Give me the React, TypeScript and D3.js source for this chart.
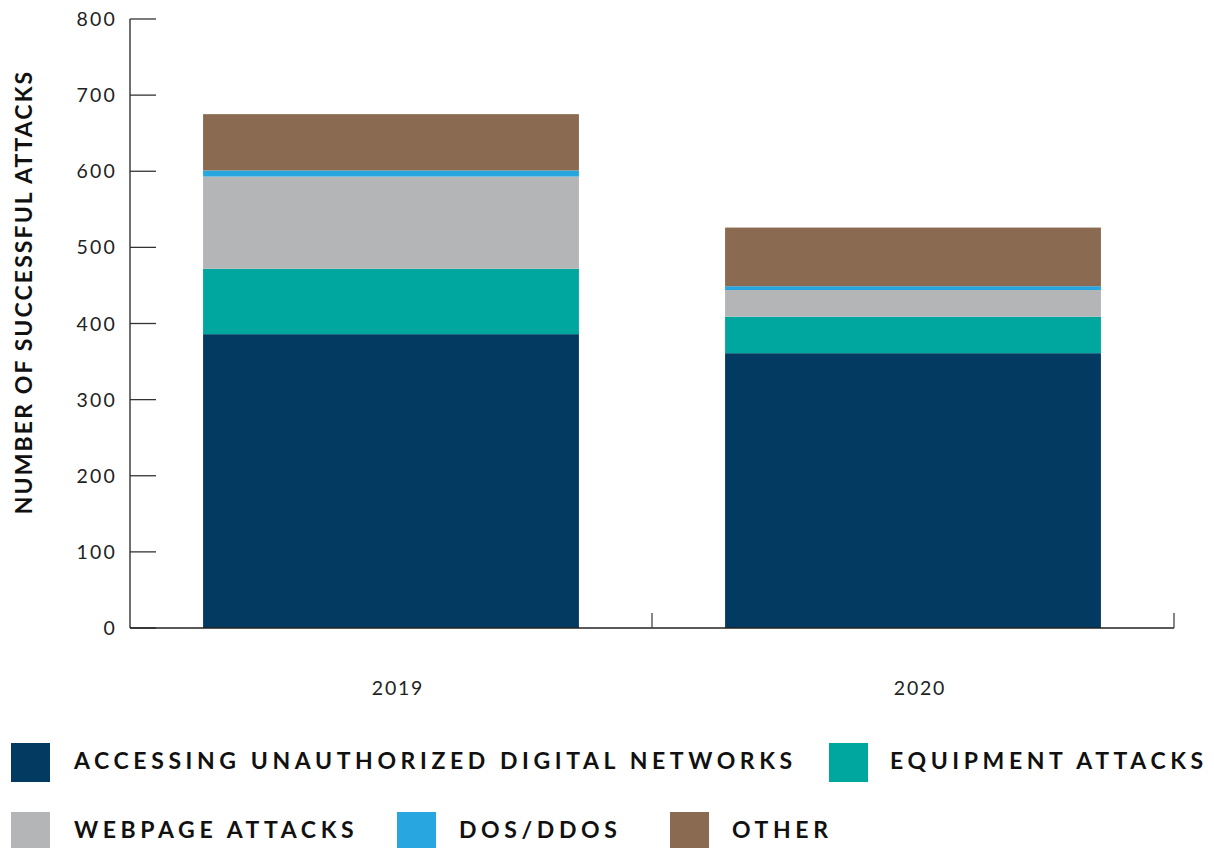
import React from "react";
import * as d3 from "d3";

const years = ["2019", "2020"];
const seriesKeys = ["unauthorized", "equipment", "webpage", "dos", "other"];
const seriesLabels = [
  "ACCESSING UNAUTHORIZED DIGITAL NETWORKS",
  "EQUIPMENT ATTACKS",
  "WEBPAGE ATTACKS",
  "DOS/DDOS",
  "OTHER",
];
const seriesColors = ["#023a62", "#00a79f", "#b4b5b7", "#27a6df", "#8a6a50"];
const unauthorized = [386, 361];
const equipment = [86, 48];
const webpage = [121, 35];
const dos = [8, 5];
const other = [74, 77];
const yTicks = [0, 100, 200, 300, 400, 500, 600, 700, 800];

const FONT = "Lato, 'Open Sans', sans-serif";

export default function App() {
  const width = 1214;
  const height = 848;
  const x0 = 130, x1 = 1174, yTop = 19, yBot = 628;

  const table = years.map((y, i) => ({
    year: y,
    unauthorized: unauthorized[i],
    equipment: equipment[i],
    webpage: webpage[i],
    dos: dos[i],
    other: other[i],
  }));
  const stacked = d3.stack<any>().keys(seriesKeys)(table);

  const x = d3.scaleBand().domain(years).range([x0, x1]).padding(0);
  const barW = x.bandwidth() * 0.72;
  const barOff = (x.bandwidth() - barW) / 2;
  const y = d3.scaleLinear().domain([0, 800]).range([yBot, yTop]);

  const legendRows = [
    [
      { i: 0, sx: 11, tx: 74 },
      { i: 1, sx: 829, tx: 890 },
    ],
    [
      { i: 2, sx: 11, tx: 74 },
      { i: 3, sx: 397, tx: 459 },
      { i: 4, sx: 670, tx: 732 },
    ],
  ];
  const rowY = [743, 812];

  return (
    <svg
      width={width}
      height={height}
      style={{ position: "absolute", left: 0, top: 0, background: "#fff" }}
    >
      {stacked.map((s, si) => (
        <g key={s.key} fill={seriesColors[si]}>
          {s.map((d: any, di: number) => (
            <rect
              key={di}
              x={(x(years[di]) as number) + barOff}
              width={barW}
              y={y(d[1])}
              height={y(d[0]) - y(d[1])}
            />
          ))}
        </g>
      ))}
      {/* y axis */}
      <line x1={x0} x2={x0} y1={yTop} y2={yBot} stroke="#222" strokeWidth={1.3} />
      {yTicks.map((t) => (
        <g key={t}>
          <line x1={x0} x2={x0 + 26} y1={y(t)} y2={y(t)} stroke="#333" strokeWidth={1.3} />
          <text
            x={x0 - 13}
            y={y(t)}
            dy="0.36em"
            textAnchor="end"
            fontFamily={FONT}
            fontSize={19.5}
            letterSpacing={2.2}
            fill="#222"
          >
            {t}
          </text>
        </g>
      ))}
      {/* x axis */}
      <line x1={x0} x2={x1} y1={yBot} y2={yBot} stroke="#222" strokeWidth={1.3} />
      {[...years.map((yr) => x(yr) as number).slice(1), x1].map((tx, i) => (
        <line key={i} x1={tx} x2={tx} y1={yBot - 15} y2={yBot} stroke="#444" strokeWidth={1.3} />
      ))}
      {years.map((yr) => (
        <text
          key={yr}
          x={(x(yr) as number) + x.bandwidth() / 2 + 7}
          y={695}
          textAnchor="middle"
          fontFamily={FONT}
          fontSize={19.5}
          letterSpacing={1.8}
          fill="#222"
        >
          {yr}
        </text>
      ))}
      {/* y axis title */}
      <text
        transform={`translate(32, ${(72 + 512) / 2}) rotate(-90)`}
        textAnchor="middle"
        fontFamily={FONT}
        fontWeight={700}
        fontSize={23}
        letterSpacing={2.1}
        fill="#111"
      >
        NUMBER OF SUCCESSFUL ATTACKS
      </text>
      {/* legend */}
      {legendRows.map((row, ri) =>
        row.map((it) => (
          <g key={it.i}>
            <rect x={it.sx} y={rowY[ri]} width={39} height={39} fill={seriesColors[it.i]} />
            <text
              x={it.tx}
              y={rowY[ri] + 26}
              fontFamily={FONT}
              fontWeight={700}
              fontSize={23}
              letterSpacing={4.6}
              fill="#111"
            >
              {seriesLabels[it.i]}
            </text>
          </g>
        ))
      )}
    </svg>
  );
}
